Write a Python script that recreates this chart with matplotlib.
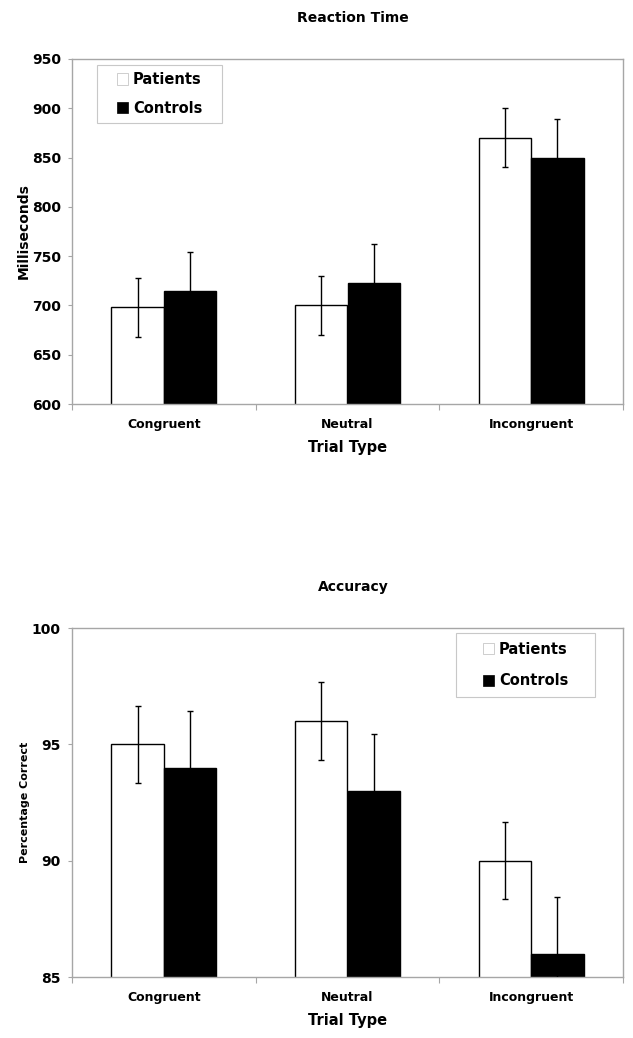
import numpy as np
import matplotlib.pyplot as plt
from matplotlib.patches import Rectangle

categories = ['Congruent', 'Neutral', 'Incongruent']
groups = ['Patients', 'Controls']

rt_patients = [698, 700, 870]
rt_controls = [715, 723, 850]
rt_patients_err = [30, 30, 30]
rt_controls_err = [39, 39, 39]

acc_patients = [95, 96, 90]
acc_controls = [94, 93, 86]
acc_patients_err = [1.66, 1.66, 1.66]
acc_controls_err = [2.43, 2.43, 2.43]

plt.rcParams['font.family'] = ['DejaVu Sans']
plt.rcParams['font.weight'] = 'bold'

GRAY = '#a6a6a6'
W = 0.285
FW, FH = 633, 1038

fig = plt.figure(figsize=(6.33, 10.38), dpi=100)


def panel(rect, pat, con, pat_err, con_err, ylim, yticks, ylabel, ylsize,
          title, title_y, legbox, legspacing):
    ax = fig.add_axes(rect)
    x = np.arange(len(categories))
    ax.bar(x - W / 2, pat, W, color='white', edgecolor='black',
           linewidth=1, label=groups[0], zorder=2)
    ax.bar(x + W / 2, con, W, color='black', edgecolor='black',
           linewidth=1, label=groups[1], zorder=2)
    ax.errorbar(x - W / 2, pat, yerr=pat_err, fmt='none', ecolor='black',
                elinewidth=1, capsize=2.5, capthick=1, zorder=3)
    ax.errorbar(x + W / 2, con, yerr=con_err, fmt='none', ecolor='black',
                elinewidth=1, capsize=2.5, capthick=1, zorder=3)
    ax.set_xlim(-0.5, 2.5)
    ax.set_ylim(*ylim)
    ax.set_yticks(yticks)
    ax.set_yticklabels([str(t) for t in yticks], fontsize=10, fontweight='bold')
    ax.set_xticks([-0.5, 0.5, 1.5, 2.5])
    ax.set_xticklabels([])
    ax.set_xticks(x, minor=True)
    ax.set_xticklabels(categories, minor=True, fontsize=9, fontweight='bold',
                       va='baseline')
    ax.tick_params(axis='x', which='minor', length=0, pad=17)
    ax.tick_params(axis='x', which='major', length=4, color=GRAY, direction='out')
    ax.tick_params(axis='y', length=3, color=GRAY, pad=5)
    for s in ax.spines.values():
        s.set_color(GRAY)
        s.set_linewidth(1)
    ax.set_xlabel('Trial Type', fontsize=10.5, fontweight='bold', labelpad=7)
    ax.set_ylabel(ylabel, fontsize=ylsize, fontweight='bold', labelpad=1)

    x0, y0, x1, y1 = legbox
    fig.add_artist(Rectangle((x0 / FW, 1 - y1 / FH), (x1 - x0) / FW,
                             (y1 - y0) / FH, transform=fig.transFigure,
                             fill=False, edgecolor='#c8c8c8', linewidth=0.8))
    leg = ax.legend(loc='center',
                    bbox_to_anchor=((x0 + x1) / 2 / FW, 1 - (y0 + y1) / 2 / FH),
                    bbox_transform=fig.transFigure, frameon=False,
                    fontsize=10.5, handlelength=0.8, handleheight=0.8,
                    handletextpad=0.3, labelspacing=legspacing,
                    borderpad=0, borderaxespad=0)
    for t in leg.get_texts():
        t.set_fontweight('bold')
    for h in leg.legend_handles:
        h.set_edgecolor('#bbbbbb' if h.get_facecolor()[0] > 0.5 else 'black')
        h.set_linewidth(0.5)
    fig.text(353 / FW, 1 - title_y / FH, title, ha='center', va='center',
             fontsize=10, fontweight='bold')
    return ax


panel([72 / FW, 1 - 404 / FH, 551 / FW, 345 / FH],
      rt_patients, rt_controls, rt_patients_err, rt_controls_err,
      (600, 950), [600, 650, 700, 750, 800, 850, 900, 950],
      'Milliseconds', 10, 'Reaction Time', 18,
      (97, 65, 222, 123), 0.95)

panel([72 / FW, 1 - 977 / FH, 551 / FW, 349 / FH],
      acc_patients, acc_controls, acc_patients_err, acc_controls_err,
      (85, 100), [85, 90, 95, 100],
      'Percentage Correct', 8, 'Accuracy', 587,
      (456, 633, 595, 697), 1.15)

fig.savefig('out.png', dpi=100)
